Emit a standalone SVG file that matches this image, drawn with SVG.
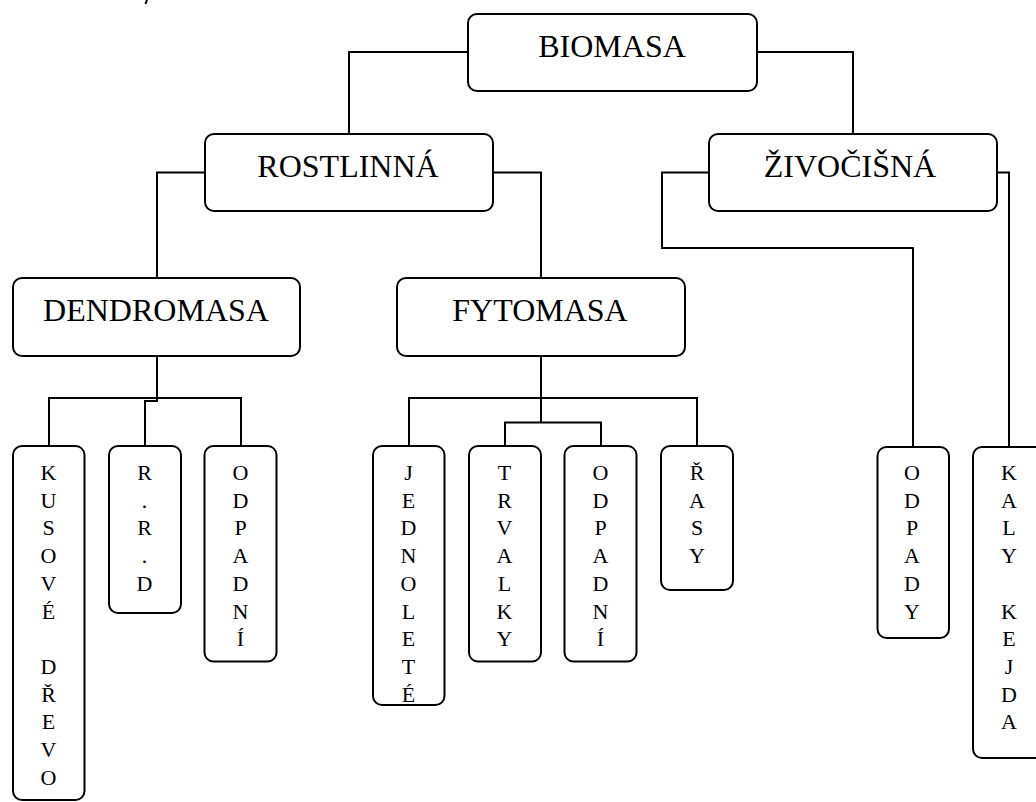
<svg xmlns="http://www.w3.org/2000/svg" width="1036" height="802" viewBox="0 0 1036 802">
<style>
.box{fill:#fff;stroke:#000;stroke-width:2}
.conn{fill:none;stroke:#000;stroke-width:2}
.t{font-size:32px;fill:#000;text-anchor:middle}
.v{font-size:22px;fill:#000;text-anchor:middle}
</style>
<rect width="1036" height="802" fill="#fff"/>
<path d="M147 0 L145.5 4" stroke="#000" stroke-width="2"/>
<g id="connectors" class="conn">
<path d="M468 52 H349 V134"/>
<path d="M757 52 H853 V134"/>
<path d="M205 172.5 H157 V278"/>
<path d="M493 172.5 H541 V278"/>
<path d="M709 172.5 H662 V248 H913 V447"/>
<path d="M997 172.5 H1009 V447"/>
<path d="M157 356 V401 H145 V446"/>
<path d="M49 446 V398 H241 V446"/>
<path d="M541 356 V422.5"/>
<path d="M409 446 V398 H697 V446"/>
<path d="M505 446 V422.5 H601 V446"/>
</g>
<g font-family="Liberation Serif, Times New Roman, serif">
<g id="biomasa"><rect class="box" x="468" y="14" width="289" height="77" rx="9"/><text class="t" x="612" y="57">BIOMASA</text></g>
<g id="rostlinna"><rect class="box" x="205" y="134" width="288" height="77" rx="9"/><text class="t" x="348" y="177">ROSTLINNÁ</text></g>
<g id="zivocisna"><rect class="box" x="709" y="134" width="288" height="77" rx="9"/><text class="t" x="850" y="177">ŽIVOČIŠNÁ</text></g>
<g id="dendromasa"><rect class="box" x="13" y="278" width="287" height="78" rx="9"/><text class="t" x="156" y="321">DENDROMASA</text></g>
<g id="fytomasa"><rect class="box" x="397" y="278" width="288" height="78" rx="9"/><text class="t" x="540" y="321">FYTOMASA</text></g>
<g id="kusove"><rect class="box" x="13" y="446" width="71.5" height="354" rx="9"/>
<text class="v"><tspan x="48.5" y="480">K</tspan><tspan x="48.5" y="507.7">U</tspan><tspan x="48.5" y="535.4">S</tspan><tspan x="48.5" y="563.1">O</tspan><tspan x="48.5" y="590.8">V</tspan><tspan x="48.5" y="618.5">É</tspan><tspan x="48.5" y="673.9">D</tspan><tspan x="48.5" y="701.6">Ř</tspan><tspan x="48.5" y="729.3">E</tspan><tspan x="48.5" y="757">V</tspan><tspan x="48.5" y="784.7">O</tspan></text></g>
<g id="rrd"><rect class="box" x="109" y="446" width="72" height="167" rx="9"/>
<text class="v"><tspan x="144.5" y="480">R</tspan><tspan x="144.5" y="507.7">.</tspan><tspan x="144.5" y="535.4">R</tspan><tspan x="144.5" y="563.1">.</tspan><tspan x="144.5" y="590.8">D</tspan></text></g>
<g id="odpadni1"><rect class="box" x="204.5" y="446" width="72" height="215.5" rx="9"/>
<text class="v"><tspan x="240.5" y="480">O</tspan><tspan x="240.5" y="507.7">D</tspan><tspan x="240.5" y="535.4">P</tspan><tspan x="240.5" y="563.1">A</tspan><tspan x="240.5" y="590.8">D</tspan><tspan x="240.5" y="618.5">N</tspan><tspan x="240.5" y="646.2">Í</tspan></text></g>
<g id="jednolete"><rect class="box" x="373" y="446" width="71.5" height="259" rx="9"/>
<text class="v"><tspan x="408.5" y="480">J</tspan><tspan x="408.5" y="507.7">E</tspan><tspan x="408.5" y="535.4">D</tspan><tspan x="408.5" y="563.1">N</tspan><tspan x="408.5" y="590.8">O</tspan><tspan x="408.5" y="618.5">L</tspan><tspan x="408.5" y="646.2">E</tspan><tspan x="408.5" y="673.9">T</tspan><tspan x="408.5" y="701.6">É</tspan></text></g>
<g id="trvalky"><rect class="box" x="469" y="446" width="72" height="215.5" rx="9"/>
<text class="v"><tspan x="504.5" y="480">T</tspan><tspan x="504.5" y="507.7">R</tspan><tspan x="504.5" y="535.4">V</tspan><tspan x="504.5" y="563.1">A</tspan><tspan x="504.5" y="590.8">L</tspan><tspan x="504.5" y="618.5">K</tspan><tspan x="504.5" y="646.2">Y</tspan></text></g>
<g id="odpadni2"><rect class="box" x="564.5" y="446" width="72" height="215.5" rx="9"/>
<text class="v"><tspan x="600.5" y="480">O</tspan><tspan x="600.5" y="507.7">D</tspan><tspan x="600.5" y="535.4">P</tspan><tspan x="600.5" y="563.1">A</tspan><tspan x="600.5" y="590.8">D</tspan><tspan x="600.5" y="618.5">N</tspan><tspan x="600.5" y="646.2">Í</tspan></text></g>
<g id="rasy"><rect class="box" x="661" y="446" width="72" height="144" rx="9"/>
<text class="v"><tspan x="697" y="480">Ř</tspan><tspan x="697" y="507.7">A</tspan><tspan x="697" y="535.4">S</tspan><tspan x="697" y="563.1">Y</tspan></text></g>
<g id="odpady"><rect class="box" x="877.5" y="447" width="71.5" height="191" rx="9"/>
<text class="v"><tspan x="912" y="480">O</tspan><tspan x="912" y="507.7">D</tspan><tspan x="912" y="535.4">P</tspan><tspan x="912" y="563.1">A</tspan><tspan x="912" y="590.8">D</tspan><tspan x="912" y="618.5">Y</tspan></text></g>
<g id="kaly"><rect class="box" x="973" y="447" width="75" height="311" rx="9"/>
<text class="v"><tspan x="1009" y="480">K</tspan><tspan x="1009" y="507.7">A</tspan><tspan x="1009" y="535.4">L</tspan><tspan x="1009" y="563.1">Y</tspan><tspan x="1009" y="618.5">K</tspan><tspan x="1009" y="646.2">E</tspan><tspan x="1009" y="673.9">J</tspan><tspan x="1009" y="701.6">D</tspan><tspan x="1009" y="729.3">A</tspan></text></g>
</g>
</svg>
